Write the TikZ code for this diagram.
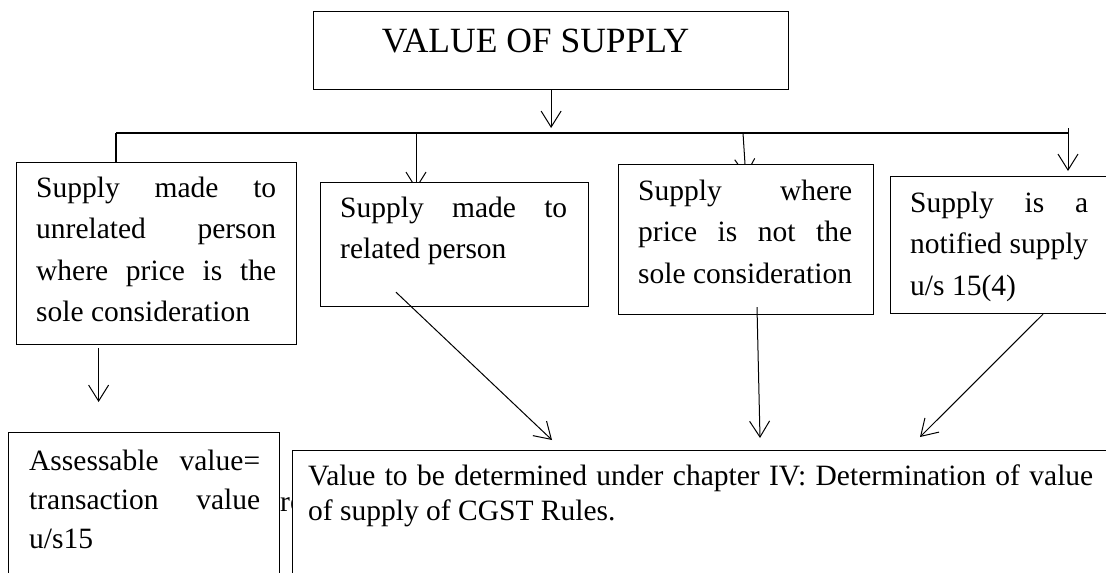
\documentclass[tikz,border=0pt]{standalone}
\usepackage{fontspec}
\setmainfont{Liberation Serif}
\usetikzlibrary{arrows.meta,backgrounds}

\tikzset{
  supbox/.style={draw, line width=1.2pt, fill=white, inner sep=0pt, anchor=north west},
  boxtext/.style={anchor=base west, inner sep=0pt, align=justify, font=\fontsize{29.5}{41.5}\selectfont},
  arr/.style={-{Straight Barb[length=16pt,width=20pt]}, line width=1pt},
}

\begin{document}
\begin{tikzpicture}[x=1pt,y=-1pt]
\useasboundingbox (0,0) rectangle (1106,573);
\hyphenpenalty=10000

% boxes
\node[supbox, minimum width=475pt, minimum height=78pt] (vos) at (313,11) {};
\node[supbox, minimum width=280pt, minimum height=182pt] (unrel) at (16,162) {};
\node[supbox, minimum width=268pt, minimum height=124pt] (rel) at (320,182) {};
\node[supbox, minimum width=255pt, minimum height=150pt] (notsole) at (618,164) {};
\node[supbox, minimum width=230pt, minimum height=137pt] (notif) at (890,176) {};
\node[supbox, minimum width=271pt, minimum height=160pt] (assess) at (8,432) {};
\node[supbox, minimum width=830pt, minimum height=150pt] (rules) at (292,450) {};

% texts
\node[anchor=base, inner sep=0pt, font=\fontsize{35.5}{40}\selectfont] (vostext) at (535.5,52) {VALUE OF SUPPLY};
\node[boxtext, text width=240pt] (unreltext) at (36,197)
  {Supply made to\linebreak unrelated person\linebreak where price is the\linebreak sole consideration};
\node[boxtext, text width=227pt] (reltext) at (340,217)
  {Supply made to\linebreak related person};
\node[boxtext, text width=214pt] (notsoletext) at (638,200)
  {Supply where\linebreak price is not the\linebreak sole consideration};
\node[boxtext, text width=178pt] (notiftext) at (910,212)
  {Supply is a\linebreak notified supply\linebreak u/s 15(4)};
\node[boxtext, text width=231pt, font=\fontsize{29.5}{39}\selectfont] (assesstext) at (29,470)
  {Assessable value=\linebreak transaction value\linebreak u/s15};
\node[boxtext, text width=785pt, font=\fontsize{29.5}{35}\selectfont] (rulestext) at (308,485)
  {Value to be determined under chapter IV: Determination of value\linebreak of supply of CGST Rules.};

% branch line
\coordinate (barL) at (116,133);
\coordinate (barR) at (1068,133);
\coordinate (hub) at (550,133);
\coordinate (stub) at (1068,128);
\coordinate (b2) at (416,133);
\coordinate (b3) at (743,133);

\begin{scope}[on background layer]
  \draw[line width=2pt] (barL) -- (barR);
  \draw[line width=1.2pt] (barL) -- (barL |- unrel.north);
  \draw[arr, shorten >=-7pt] (b2) -- (b2 |- rel.north);
  \draw[arr, shorten >=-12pt] (b3) -- ([xshift=2pt]b3 |- notsole.north);
  \node[anchor=base west, inner sep=0pt, font=\fontsize{29.5}{40}\selectfont] (peek) at (280,511) {re};
\end{scope}

% arrows
\draw[arr, shorten >=5pt] (vos.south) -- (vos.south |- hub);
\draw[arr, shorten >=5pt] (stub) -- (stub |- notif.north);
\draw[arr, shorten <=3pt, shorten >=30pt] ([xshift=-58pt]unrel.south) -- ([xshift=-45.5pt]assess.north);
\draw[arr] ([shift={(76,-15)}]rel.south west) -- ([shift={(260,-10)}]rules.north west);
\draw[arr] ([shift={(139,-8)}]notsole.south west) -- ([shift={(468,-12)}]rules.north west);
\draw[arr] ([xshift=153pt]notif.south west) -- ([shift={(628,-13)}]rules.north west);
\end{tikzpicture}
\end{document}
